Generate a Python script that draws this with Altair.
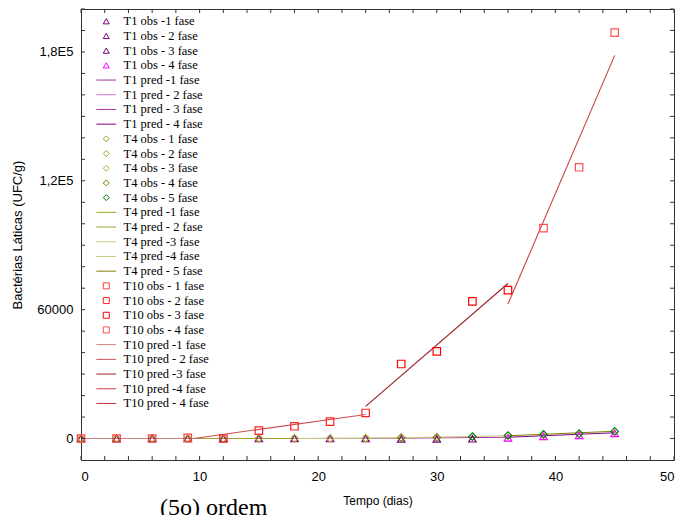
import altair as alt
import pandas as pd

# ---------------- data ----------------
series_names = [
    "T1 obs -1 fase", "T1 obs - 2 fase", "T1 obs - 3 fase", "T1 obs - 4 fase",
    "T1 pred -1 fase", "T1 pred - 2 fase", "T1 pred - 3 fase", "T1 pred - 4 fase",
    "T4 obs - 1 fase", "T4 obs - 2 fase", "T4 obs - 3 fase", "T4 obs - 4 fase", "T4 obs - 5 fase",
    "T4 pred -1 fase", "T4 pred - 2 fase", "T4 pred -3 fase", "T4 pred -4 fase", "T4 pred - 5 fase",
    "T10 obs - 1 fase", "T10 obs - 2 fase", "T10 obs - 3 fase", "T10 obs - 4 fase",
    "T10 pred -1 fase", "T10 pred - 2 fase", "T10 pred -3 fase", "T10 pred -4 fase", "T10 pred - 4 fase",
]
series_colors = [
    "#800080", "#800080", "#700070", "#ff00ff",
    "#993399", "#cc77cc", "#aa33aa", "#800080",
    "#a0a020", "#a0a030", "#b0b040", "#808000", "#008000",
    "#a0a030", "#a0a030", "#c8c880", "#c8c880", "#808000",
    "#ff4040", "#ff2020", "#ff0000", "#ff5050",
    "#cc8080", "#cc5050", "#992020", "#cc4040", "#bb3333",
]
LINE = "M-3.3,0L3.3,0"
series_shapes = (["triangle-up"] * 4 + [LINE] * 4 + ["diamond"] * 5 + [LINE] * 5
                 + ["square"] * 4 + [LINE] * 5)

days = [0, 3, 6, 9, 12, 15, 18, 21, 24, 27, 30, 33, 36, 39, 42, 45]
t1_obs = [0, 0, 0, 0, 0, 0, 0, 0, 0, -200, -200, -100, 300, 1000, 1500, 2400]
t1_phase = [1, 1, 1, 1, 2, 2, 2, 2, 3, 3, 3, 3, 4, 4, 4, 4]
t4_obs = [0, 0, 0, 0, 0, 100, 100, 100, 200, 400, 500, 900, 1400, 1900, 2300, 3300]
t4_phase = [1, 1, 1, 1, 2, 2, 2, 3, 3, 4, 4, 5, 5, 5, 5, 5]
t10_obs = [0, 0, 0, 300, 0, 3700, 5700, 7900, 11900, 34700, 40600, 63900, 69100, 98000, 126300, 189000]
t10_phase = [1, 1, 1, 1, 2, 2, 2, 2, 2, 3, 3, 3, 3, 4, 4, 4]

t1_pred_x = [[0, 12], [12, 24], [24, 36], [36, 45]]
t1_pred_y = [[0, 0], [0, 0], [0, 600], [600, 2700]]
t4_pred_x = [[0, 9], [9, 18], [18, 27], [27, 36], [36, 45]]
t4_pred_y = [[0, 0], [0, 0], [0, 300], [300, 1300], [1300, 3400]]
t10_pred_x = [[0, 9.5], [9.5, 24], [24, 36], [36, 45], []]
t10_pred_y = [[0, 0], [0, 11200], [15000, 72200], [62600, 178400], []]

x_ticks = list(range(0, 51, 2))
y_ticks = list(range(0, 200001, 10000))
x_labels = [0, 10, 20, 30, 40, 50]
y_labels = [0, 60000, 120000, 180000]
annotation = ["(5o) ordem"]

# ---------------- tables ----------------
obs_rows = []
for prefix, vals, phases, names in [
    ("T1", t1_obs, t1_phase, series_names[0:4]),
    ("T4", t4_obs, t4_phase, series_names[8:13]),
    ("T10", t10_obs, t10_phase, series_names[18:22]),
]:
    for d, v, p in zip(days, vals, phases):
        obs_rows.append({"series": names[p - 1], "x": d, "y": v})
obs_df = pd.DataFrame(obs_rows)

pred_rows = []
for xs_list, ys_list, names in [
    (t1_pred_x, t1_pred_y, series_names[4:8]),
    (t4_pred_x, t4_pred_y, series_names[13:18]),
    (t10_pred_x, t10_pred_y, series_names[22:27]),
]:
    for name, xs, ys in zip(names, xs_list, ys_list):
        for i, (xv, yv) in enumerate(zip(xs, ys)):
            pred_rows.append({"series": name, "x": xv, "y": yv, "o": i})
pred_df = pd.DataFrame(pred_rows)

W, H = 593, 451
xscale = alt.Scale(domain=[0, 50], nice=False, zero=False)
yscale = alt.Scale(domain=[-10000, 200000], nice=False, zero=False)
color_scale = alt.Scale(domain=series_names, range=series_colors)
shape_scale = alt.Scale(domain=series_names, range=series_shapes)

legend = alt.Legend(
    title=None, orient="none", legendX=19, legendY=6, padding=0,
    labelFont="Liberation Serif", labelFontSize=12.5, labelColor="#000",
    symbolSize=36, symbolStrokeWidth=1, rowPadding=1.7, labelOffset=11,
    symbolLimit=40, labelLimit=300,
)

FONT = "Liberation Sans"

xaxis = alt.Axis(values=x_labels, ticks=False, domain=False, grid=False,
                 labelFont=FONT, labelFontSize=13, labelColor="#000", labelPadding=10,
                 title="Tempo (dias)", titleFont=FONT, titleFontSize=12,
                 titleFontWeight="normal", titleColor="#000", titlePadding=12)
yaxis = alt.Axis(values=y_labels, ticks=False, domain=False, grid=False,
                 labelFont=FONT, labelFontSize=13, labelColor="#000", labelPadding=8,
                 labelExpr="datum.value == 0 ? '0' : datum.value == 60000 ? '60000' : datum.value == 120000 ? '1,2E5' : '1,8E5'",
                 title="Bactérias Láticas (UFC/g)", titleFont=FONT, titleFontSize=13,
                 titleFontWeight="normal", titleColor="#000", titlePadding=12)

lines = alt.Chart(pred_df).mark_line(strokeWidth=1.1).encode(
    x=alt.X("x:Q", scale=xscale, axis=xaxis),
    y=alt.Y("y:Q", scale=yscale, axis=yaxis),
    color=alt.Color("series:N", scale=color_scale, legend=legend),
    order="o:Q",
)

points = alt.Chart(obs_df).mark_point(filled=False, size=56, strokeWidth=1.2, opacity=1).encode(
    x=alt.X("x:Q", scale=xscale, axis=xaxis),
    y=alt.Y("y:Q", scale=yscale, axis=yaxis),
    color=alt.Color("series:N", scale=color_scale, legend=legend),
    shape=alt.Shape("series:N", scale=shape_scale, legend=legend),
)

xt = pd.DataFrame({"t": x_ticks})
yt = pd.DataFrame({"t": y_ticks})
TL = 4
tick_style = dict(color="#333", strokeWidth=1)
bottom_ticks = alt.Chart(xt).mark_rule(**tick_style).encode(
    x=alt.X("t:Q", scale=xscale, axis=xaxis), y=alt.value(H), y2=alt.value(H - TL))
top_ticks = alt.Chart(xt).mark_rule(**tick_style).encode(
    x=alt.X("t:Q", scale=xscale, axis=xaxis), y=alt.value(0), y2=alt.value(TL))
left_ticks = alt.Chart(yt).mark_rule(**tick_style).encode(
    y=alt.Y("t:Q", scale=yscale, axis=yaxis), x=alt.value(0), x2=alt.value(TL))
right_ticks = alt.Chart(yt).mark_rule(**tick_style).encode(
    y=alt.Y("t:Q", scale=yscale, axis=yaxis), x=alt.value(W), x2=alt.value(W - TL))

note = alt.Chart(pd.DataFrame({"txt": annotation})).mark_text(
    align="left", baseline="alphabetic", font="Liberation Serif", fontSize=24, color="#000"
).encode(text="txt:N", x=alt.value(79), y=alt.value(506))

chart = alt.layer(
    lines, points, bottom_ticks, top_ticks, left_ticks, right_ticks, note
).resolve_scale(color="shared", shape="shared").properties(
    width=W, height=H,
    padding={"left": 81, "top": 9, "right": 9, "bottom": 55},
    autosize=alt.AutoSizeParams(type="none"),
    background="white",
).configure_view(stroke="#333", strokeWidth=1)

chart.save("out.html", embed_options={"renderer": "svg", "actions": False})
